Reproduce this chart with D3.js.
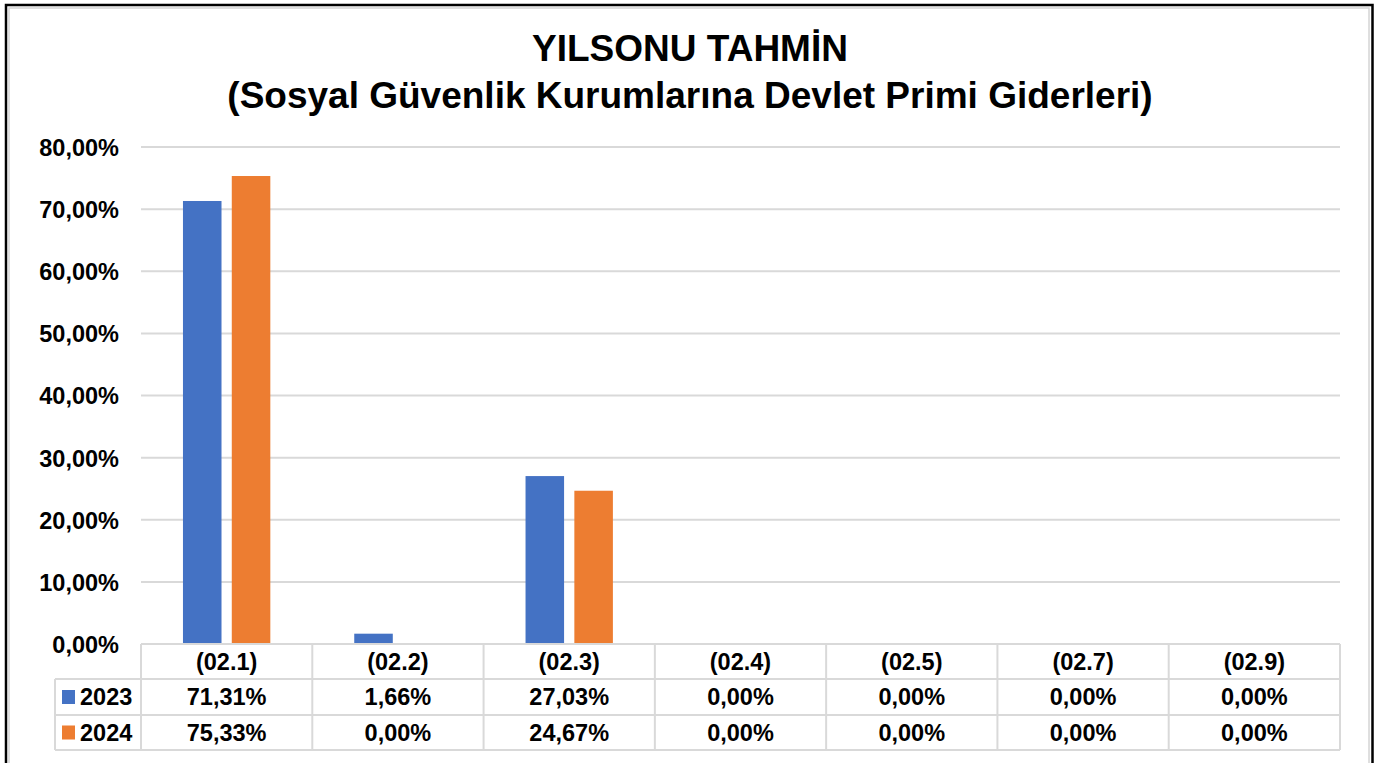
<!DOCTYPE html>
<html>
<head>
<meta charset="utf-8">
<script src="https://cdn.jsdelivr.net/npm/d3@7"></script>
<style>
  html, body { margin: 0; padding: 0; background: #fff; }
  svg { display: block; }
  text { font-family: "Liberation Sans", Arial, sans-serif; font-weight: bold; fill: #000; }
</style>
</head>
<body>
<svg id="chart" width="1378" height="763"></svg>
<script>
const titleLines = ["YILSONU TAHMİN", "(Sosyal Güvenlik Kurumlarına Devlet Primi Giderleri)"];
const categories = ["(02.1)", "(02.2)", "(02.3)", "(02.4)", "(02.5)", "(02.7)", "(02.9)"];
const seriesNames = ["2023", "2024"];
const values2023 = [71.31, 1.66, 27.03, 0.00, 0.00, 0.00, 0.00];
const values2024 = [75.33, 0.00, 24.67, 0.00, 0.00, 0.00, 0.00];
const yTicks = [0, 10, 20, 30, 40, 50, 60, 70, 80];
const colors = ["#4472C4", "#ED7D31"];

const series = [values2023, values2024];
const fmt = v => v.toFixed(2).replace(".", ",") + "%";

const svg = d3.select("#chart");
const W = 1378, H = 763;
const FS = "23.5px";

// frame
svg.append("rect").attr("x", 6).attr("y", 5).attr("width", 1366.5).attr("height", H + 10)
  .attr("fill", "none").attr("stroke", "#000").attr("stroke-width", 2.5);
svg.append("rect").attr("x", 9).attr("y", 8).attr("width", 1360).attr("height", H + 10)
  .attr("fill", "none").attr("stroke", "#d4d4d4").attr("stroke-width", 1.5);

// title
svg.selectAll("text.title").data(titleLines).enter().append("text")
  .attr("class", "title")
  .attr("x", 690).attr("y", (d, i) => 61 + i * 47)
  .attr("text-anchor", "middle")
  .style("font-size", "37px")
  .text(d => d);

const plotLeft = 141, plotRight = 1340, plotTop = 147, plotBottom = 644;
const x = d3.scaleBand().domain(categories).range([plotLeft, plotRight]).paddingInner(0).paddingOuter(0);
const y = d3.scaleLinear().domain([0, 80]).range([plotBottom, plotTop]);

// gridlines
svg.append("g").selectAll("line").data(yTicks.filter(t => t > 0)).enter().append("line")
  .attr("x1", plotLeft).attr("x2", plotRight)
  .attr("y1", d => y(d)).attr("y2", d => y(d))
  .attr("stroke", "#d9d9d9").attr("stroke-width", 2);

// y axis labels
const yAxis = d3.axisLeft(y).tickValues(yTicks).tickFormat(fmt).tickSize(0).tickPadding(0);
const yg = svg.append("g").attr("transform", "translate(119,0)").call(yAxis);
yg.select(".domain").remove();
yg.selectAll("text").style("font-size", FS).attr("font-family", null).attr("fill", "#000").attr("dy", "0.36em");

// bars
const step = x.bandwidth();
const barW = step * 0.225, gap = step * 0.06;
series.forEach((vals, si) => {
  svg.append("g").selectAll("rect").data(vals).enter().append("rect")
    .attr("x", (d, i) => x(categories[i]) + step / 2 + (si === 0 ? -gap / 2 - barW : gap / 2))
    .attr("y", d => y(d))
    .attr("width", barW)
    .attr("height", d => plotBottom - y(d))
    .attr("fill", colors[si]);
});

// data table
const rowTops = [644, 679, 715, 750];
const legendLeft = 55;
const tg = svg.append("g");
const lineStyle = s => s.attr("stroke", "#d9d9d9").attr("stroke-width", 2);
tg.append("line").attr("x1", plotLeft).attr("x2", plotRight).attr("y1", rowTops[0]).attr("y2", rowTops[0]).call(lineStyle);
[1, 2, 3].forEach(r => {
  tg.append("line").attr("x1", legendLeft).attr("x2", plotRight).attr("y1", rowTops[r]).attr("y2", rowTops[r]).call(lineStyle);
});
const bounds = categories.map(c => x(c)).concat([plotRight]);
bounds.forEach(b => {
  tg.append("line").attr("x1", b).attr("x2", b).attr("y1", rowTops[0]).attr("y2", rowTops[3]).call(lineStyle);
});
tg.append("line").attr("x1", legendLeft).attr("x2", legendLeft).attr("y1", rowTops[1]).attr("y2", rowTops[3]).call(lineStyle);

// header
tg.selectAll("text.hdr").data(categories).enter().append("text")
  .attr("x", d => x(d) + step / 2).attr("y", (rowTops[0] + rowTops[1]) / 2)
  .attr("dy", "0.36em").attr("text-anchor", "middle").style("font-size", FS)
  .text(d => d);
// rows
series.forEach((vals, si) => {
  const cy = (rowTops[si + 1] + rowTops[si + 2]) / 2;
  tg.append("g").selectAll("text").data(vals).enter().append("text")
    .attr("x", (d, i) => x(categories[i]) + step / 2).attr("y", cy)
    .attr("dy", "0.36em").attr("text-anchor", "middle").style("font-size", FS)
    .text(d => fmt(d));
  tg.append("rect").attr("x", 62).attr("y", cy - 7).attr("width", 13).attr("height", 14).attr("fill", colors[si]);
  tg.append("text").attr("x", 80).attr("y", cy).attr("dy", "0.36em").style("font-size", FS).text(seriesNames[si]);
});
</script>
</body>
</html>
